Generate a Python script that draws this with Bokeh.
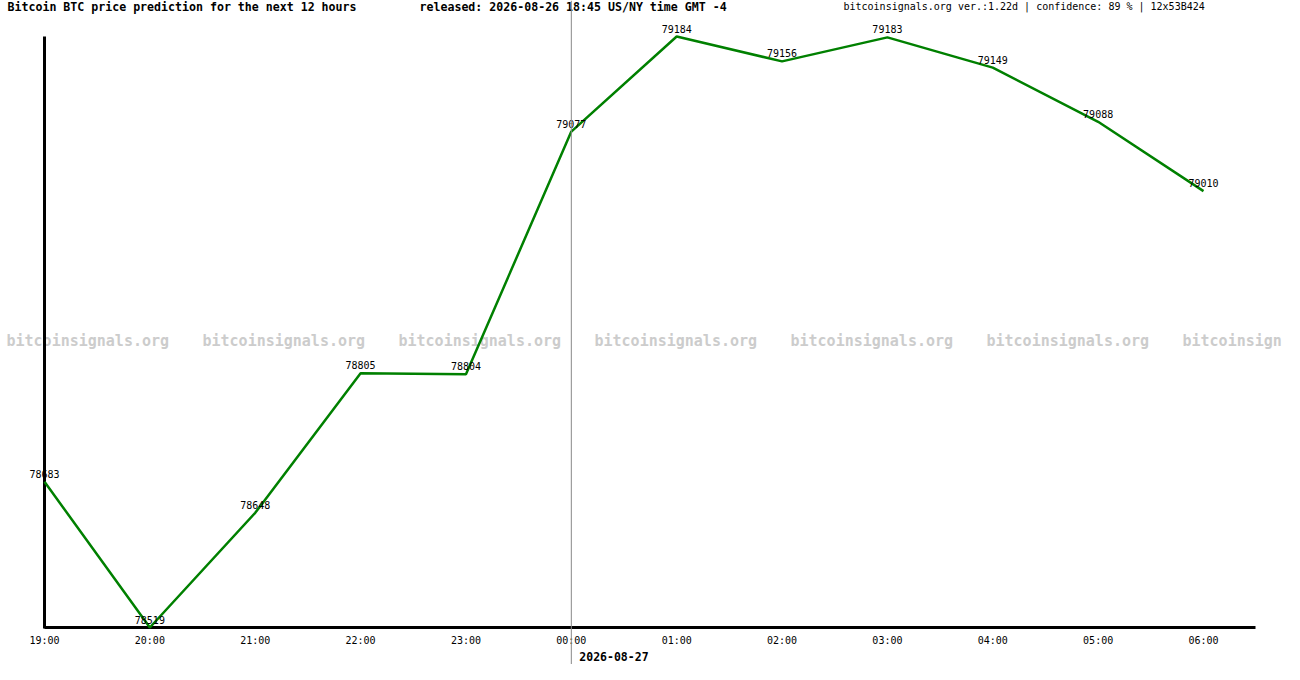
from bokeh.plotting import figure
from bokeh.models import Range1d, ColumnDataSource
from bokeh.core.properties import value
from bokeh.embed import file_html
from bokeh.resources import INLINE

# ---- data ----
hours = ["19:00", "20:00", "21:00", "22:00", "23:00", "00:00",
         "01:00", "02:00", "03:00", "04:00", "05:00", "06:00"]
prices = [78683, 78519, 78648, 78805, 78804, 79077,
          79184, 79156, 79183, 79149, 79088, 79010]
title_text = "Bitcoin BTC price prediction for the next 12 hours"
released_text = "released: 2026-08-26 18:45 US/NY time GMT -4"
info_text = "bitcoinsignals.org ver.:1.22d | confidence: 89 % | 12x53B424"
date_text = "2026-08-27"
watermark = "bitcoinsignals.org"
midnight_label = "00:00"

# ---- layout (reference pixel geometry) ----
W, H = 1284, 664
OFFX, OFFY = 0, 8                 # which part of the reference canvas the figure shows
LEFT_PX, RIGHT_PX = 44, 1203      # first / last hour positions
AXIS_END_PX = 1255
TOP_PX, BOTTOM_PX = 44, 635       # max / min price positions
WM_START, WM_STEP, WM_CHAR = 6, 196, 9

xs = list(range(len(hours)))
pmin, pmax = min(prices), max(prices)
PX_PER_H = (RIGHT_PX - LEFT_PX) / (len(hours) - 1)
K = (BOTTOM_PX - TOP_PX) / (pmax - pmin)

def xd(px):
    return (px - LEFT_PX) / PX_PER_H

def yd(py):
    return pmin + (BOTTOM_PX - py) / K

p = figure(width=W, height=H, output_backend="svg", toolbar_location=None,
           x_axis_type=None, y_axis_type=None,
           x_range=Range1d(xd(OFFX), xd(OFFX + W)),
           y_range=Range1d(yd(OFFY + H), yd(OFFY)),
           min_border=0, min_border_left=0, min_border_right=0,
           min_border_top=0, min_border_bottom=0)
p.outline_line_color = None
p.xgrid.visible = False
p.ygrid.visible = False
p.background_fill_color = "white"
p.border_fill_color = "white"

MONO = value("DejaVu Sans Mono")

# watermark row (the last copy runs off the canvas edge)
wm_px = [WM_START + WM_STEP * i for i in range(7)]
wm_txt = [watermark[:max(0, min(len(watermark), int((OFFX + W - px) // WM_CHAR)))] for px in wm_px]
p.text(x=[xd(px) for px in wm_px], y=[yd(348)] * len(wm_px), text=wm_txt,
       text_font=MONO, text_font_size="15px", text_font_style="bold",
       text_color="#cccccc", text_align="left", text_baseline="middle")

# axes
p.segment(x0=[xd(LEFT_PX)], y0=[yd(TOP_PX)], x1=[xd(LEFT_PX)], y1=[yd(BOTTOM_PX + 1)],
          line_color="black", line_width=3)
p.segment(x0=[xd(LEFT_PX)], y0=[yd(BOTTOM_PX)], x1=[xd(AXIS_END_PX)], y1=[yd(BOTTOM_PX)],
          line_color="black", line_width=3)

# data line
src = ColumnDataSource(dict(x=xs, y=prices, lab=[str(v) for v in prices]))
p.line("x", "y", source=src, line_color="#008000", line_width=2.5)

# data labels
p.text("x", "y", text="lab", source=src, text_font=MONO, text_font_size="10px",
       text_color="black", text_align="center", text_baseline="middle", y_offset=-8)

# hour tick labels
p.text(x=xs, y=[yd(648)] * len(xs), text=hours, text_font=MONO, text_font_size="10px",
       text_color="black", text_align="center", text_baseline="middle")

# date label under midnight
mid = hours.index(midnight_label)
p.text(x=[mid], y=[yd(664)], text=[date_text], text_font=MONO, text_font_size="11.5px",
       text_font_style="bold", text_color="black", text_align="left",
       text_baseline="middle", x_offset=8)

# header texts
p.text(x=[xd(7)], y=[yd(14)], text=[title_text], text_font=MONO, text_font_size="11.6px",
       text_font_style="bold", text_color="black", text_align="left", text_baseline="middle")
p.text(x=[xd(419)], y=[yd(14)], text=[released_text], text_font=MONO, text_font_size="11.6px",
       text_font_style="bold", text_color="black", text_align="left", text_baseline="middle")
p.text(x=[xd(843)], y=[yd(14)], text=[info_text], text_font=MONO, text_font_size="10px",
       text_color="black", text_align="left", text_baseline="middle")

# vertical line at midnight (full height)
p.segment(x0=[mid], y0=[yd(OFFY + H)], x1=[mid], y1=[yd(OFFY)],
          line_color="#888888", line_width=1)

open("out.html", "w").write(file_html(p, INLINE))
